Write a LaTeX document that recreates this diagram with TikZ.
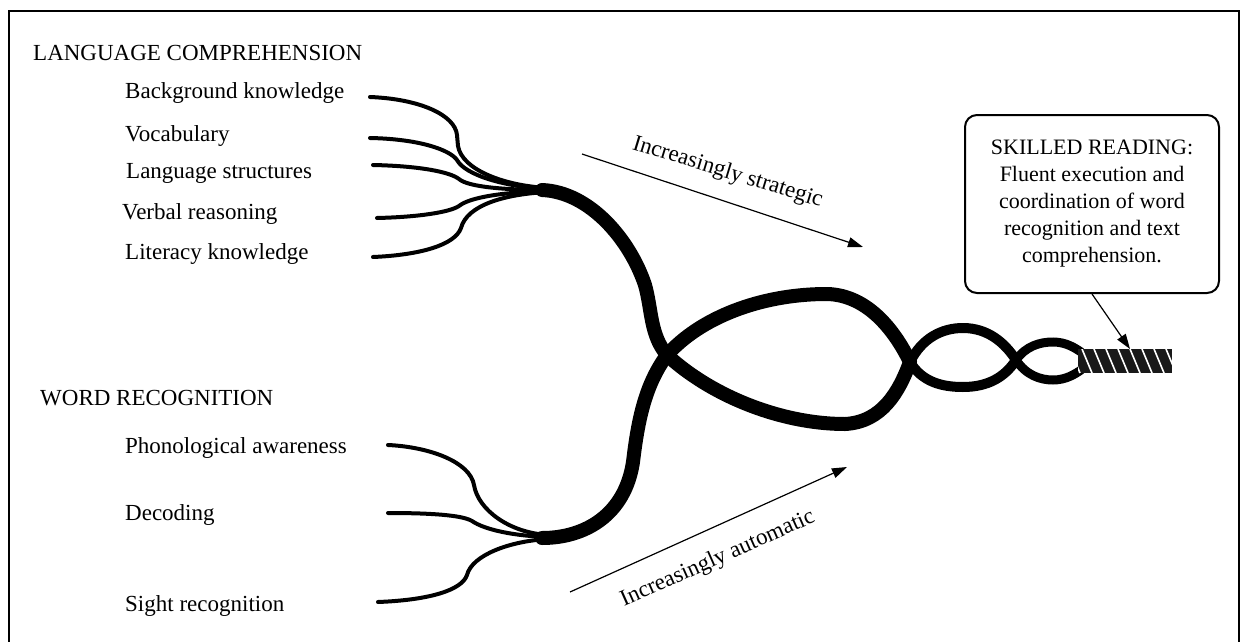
\documentclass[tikz,border=0pt]{standalone}
\usepackage{fontspec}
\setmainfont{Liberation Serif}
\usetikzlibrary{arrows.meta}
\begin{document}
\begin{tikzpicture}[x=1pt,y=-1pt,
  lbl/.style={font=\fontsize{23}{27}\selectfont, inner sep=0pt, anchor=base west},
  rlbl/.style={font=\fontsize{23}{27}\selectfont, inner sep=0pt, anchor=base},
  thinstrand/.style={line width=4pt, line cap=round},
  thickstrand/.style={line width=14pt, line cap=round},
  midstrand/.style={line width=10pt, line cap=round},
  smallstrand/.style={line width=9pt, line cap=round},
  dirarrow/.style={line width=1.2pt, -{Triangle[length=15pt,width=10pt]}},
]
\useasboundingbox (0,0) rectangle (1242,642);
\draw[line width=2pt] (9,642) -- (9,11) -- (1239,11) -- (1239,642);

% labels
\node[lbl] (lc)  at (33,60)  {LANGUAGE COMPREHENSION};
\node[lbl] (bk)  at (125,99) {Background knowledge};
\node[lbl] (voc) at (125,141) {Vocabulary};
\node[lbl] (ls)  at (126,178) {Language structures};
\node[lbl] (vr)  at (122,219) {Verbal reasoning};
\node[lbl] (lk)  at (125,259) {Literacy knowledge};
\node[lbl] (wr)  at (40,405) {WORD RECOGNITION};
\node[lbl] (pa)  at (125,453) {Phonological awareness};
\node[lbl] (dec) at (125,520) {Decoding};
\node[lbl] (sr)  at (125,611) {Sight recognition};

% key points
\coordinate (s1) at (370,97);
\coordinate (s2) at (370,138);
\coordinate (s3) at (373,165);
\coordinate (s4) at (377,218);
\coordinate (s5) at (373,257);
\coordinate (w1) at (388,445);
\coordinate (w2) at (388,513);
\coordinate (w3) at (378,602);
\coordinate (jl) at (542,190);
\coordinate (jw) at (542,538);
\coordinate (c1) at (667,355);
\coordinate (c2) at (910,362);
\coordinate (c3) at (1016,360);
\coordinate (rt) at (1081,352);
\coordinate (rb) at (1081,370);

% language comprehension strands
\draw[thinstrand] (s1) .. controls (420,99) and (455,115) .. (457,135) -- (458,146) .. controls (462,170) and (505,186) .. (548,188);
\draw[thinstrand] (s2) .. controls (420,139) and (450,150) .. (457,160) .. controls (465,175) and (505,187) .. (548,189);
\draw[thinstrand] (s3) .. controls (420,166) and (450,172) .. (459,179) .. controls (468,187) and (505,190) .. (548,190);
\draw[thinstrand] (s4) .. controls (420,217) and (450,212) .. (459,206) .. controls (470,197) and (505,192) .. (548,191);
\draw[thinstrand] (s5) .. controls (420,255) and (455,245) .. (461,228) .. controls (467,205) and (505,194) .. (548,192);

% word recognition strands
\draw[thinstrand] (w1) .. controls (430,447) and (470,462) .. (474,485) .. controls (478,510) and (510,533) .. (548,535);
\draw[thinstrand] (w2) .. controls (430,513) and (462,515) .. (472,521) .. controls (485,530) and (515,536) .. (548,537);
\draw[thinstrand] (w3) .. controls (430,600) and (462,590) .. (467,575) .. controls (472,555) and (510,541) .. (548,539);

% main thick strands
\draw[thickstrand] (jl) .. controls (590,192) and (630,240) .. (645,285) .. controls (652,310) and (650,335) .. (c1)
  .. controls (710,395) and (780,424) .. (845,424) .. controls (882,422) and (899,392) .. (c2);
\draw[thickstrand] (jw) .. controls (585,538) and (625,515) .. (633,462) .. controls (638,420) and (645,385) .. (c1)
  .. controls (700,318) and (760,294) .. (827,294) .. controls (870,295) and (897,335) .. (c2);

% second lobe
\draw[midstrand] (c2) .. controls (922,338) and (942,328) .. (963,328) .. controls (988,328) and (1005,343) .. (c3);
\draw[midstrand] (c2) .. controls (922,382) and (942,387) .. (963,387) .. controls (988,387) and (1005,377) .. (c3);

% third lobe
\draw[smallstrand] (c3) .. controls (1026,346) and (1040,342) .. (1053,342) .. controls (1066,342) and (1075,348) .. (rt);
\draw[smallstrand] (c3) .. controls (1026,375) and (1040,380) .. (1053,380) .. controls (1066,380) and (1075,374) .. (rb);

% rope
\begin{scope}
  \clip (1078,349) rectangle (1172,373);
  \fill[black!90] (1078,349) rectangle (1172,373);
  \foreach \x in {1070,1082,...,1170} \draw[white, line width=1.6pt] (\x,349) -- (\x+10,373);
\end{scope}
\coordinate (ropetop) at (1130,349);

% skilled reading box
\node[draw, line width=2pt, rounded corners=12pt, minimum width=254pt, minimum height=178pt,
  align=center, inner sep=0pt, font=\fontsize{22}{27}\selectfont] (sk) at (1092,204)
  {SKILLED READING:\\ Fluent execution and\\ coordination of word\\ recognition and text\\ comprehension.};
\draw[dirarrow] (sk.south) -- (ropetop);

% direction arrows
\coordinate (sa1) at (582,154);
\coordinate (sa2) at (863,247);
\draw[dirarrow] (sa1) -- (sa2);
\node[rlbl, rotate=-17] (strat) at (726,178) {Increasingly strategic};
\coordinate (aa1) at (570,592);
\coordinate (aa2) at (847,467);
\draw[dirarrow] (aa1) -- (aa2);
\node[rlbl, rotate=24] (auto) at (720,564) {Increasingly automatic};
\end{tikzpicture}
\end{document}
